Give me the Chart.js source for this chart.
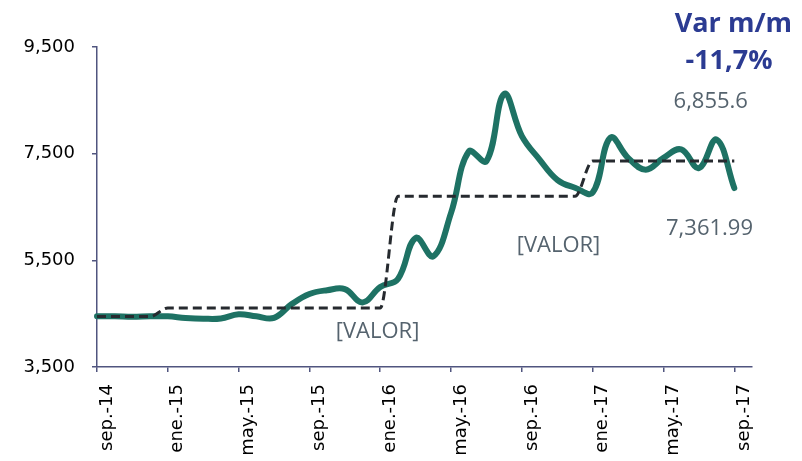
<!DOCTYPE html>
<html>
<head>
<meta charset="utf-8">
<script src="https://cdn.jsdelivr.net/npm/chart.js@4.4.1/dist/chart.umd.min.js"></script>
<style>
    html, body { margin: 0; padding: 0; background: #fff; }
    #wrap { width: 802px; height: 461px; }
</style>
</head>
<body>
<div id="wrap"><canvas id="precioChart"></canvas></div>
<script>
// meses (el eje llega hasta oct.-17, los datos terminan en sep.-17)
const months = [
    'sep.-14', 'oct.-14', 'nov.-14', 'dic.-14',
    'ene.-15', 'feb.-15', 'mar.-15', 'abr.-15', 'may.-15', 'jun.-15', 'jul.-15', 'ago.-15',
    'sep.-15', 'oct.-15', 'nov.-15', 'dic.-15',
    'ene.-16', 'feb.-16', 'mar.-16', 'abr.-16', 'may.-16', 'jun.-16', 'jul.-16', 'ago.-16',
    'sep.-16', 'oct.-16', 'nov.-16', 'dic.-16',
    'ene.-17', 'feb.-17', 'mar.-17', 'abr.-17', 'may.-17', 'jun.-17', 'jul.-17', 'ago.-17',
    'sep.-17', 'oct.-17'
];

// precio mensual
const monthlyValues = [
    4450, 4450, 4440, 4450,
    4450, 4420, 4405, 4410, 4490, 4450, 4420, 4680,
    4870, 4940, 4960, 4710,
    5000, 5150, 5920, 5575, 6390, 7540, 7360, 8620,
    7830, 7390, 7010, 6860,
    6770, 7800, 7420, 7200, 7420, 7580, 7230, 7764,
    6855.6
];

// promedio anual (linea punteada)
const yearlyAverage = [
    4445, 4445, 4445, 4445,
    4607, 4607, 4607, 4607, 4607, 4607, 4607, 4607,
    4607, 4607, 4607, 4607,
    4607, 6700, 6700, 6700, 6700, 6700, 6700, 6700,
    6700, 6700, 6700, 6700,
    7361.99, 7361.99, 7361.99, 7361.99, 7361.99, 7361.99, 7361.99, 7361.99,
    7361.99
];

const yTicks = [3500, 5500, 7500, 9500];

const axisColor = '#50557f';
const labelGray = '#55636e';
const navy = '#2b3b92';

const n = monthlyValues.length;
const lastValue = monthlyValues[n - 1];
const varMm = (lastValue / monthlyValues[n - 2] - 1) * 100;

// textos sueltos: [texto, posicion en meses, posicion en valor, fuente, color]
const notes = [
    [lastValue.toLocaleString('en-US'), 34.67, 8470, '22px "Open Sans"', labelGray],
    [yearlyAverage[n - 1].toLocaleString('en-US'), 34.6, 6100, '22px "Open Sans"', labelGray],
    ['[VALOR]', 15.85, 4160, '22px "Open Sans"', labelGray],
    ['[VALOR]', 26.07, 5770, '22px "Open Sans"', labelGray],
    ['Var m/m', 35.95, 9930, 'bold 27px "Open Sans"', navy],
    [varMm.toFixed(1).replace('.', ',') + '%', 35.7, 9225, 'bold 27px "Open Sans"', navy],
];

const notesPlugin = {
    id: 'notes',
    afterDraw(chart) {
        const {ctx, scales: {x, y}} = chart;
        ctx.save();
        ctx.textAlign = 'center';
        ctx.textBaseline = 'middle';
        notes.forEach(([text, mx, vy, font, color]) => {
            ctx.font = font;
            ctx.fillStyle = color;
            ctx.fillText(text, x.getPixelForValue(mx), y.getPixelForValue(vy));
        });
        ctx.restore();
    }
};

new Chart(document.getElementById('precioChart'), {
    type: 'line',
    data: {
        labels: months,
        datasets: [
            {
                label: 'Promedio anual',
                data: yearlyAverage,
                borderColor: '#262a2f',
                borderWidth: 3,
                borderDash: [9, 5],
                cubicInterpolationMode: 'monotone',
                pointRadius: 0,
                fill: false,
                order: 0,
            },
            {
                label: 'Precio',
                data: monthlyValues,
                borderColor: '#1e7264',
                borderWidth: 6,
                borderCapStyle: 'round',
                borderJoinStyle: 'round',
                tension: 0.4,
                pointRadius: 0,
                fill: false,
                order: 1,
            }
        ]
    },
    options: {
        responsive: true,
        maintainAspectRatio: false,
        animation: false,
        layout: {
            padding: {top: 47, right: 50, bottom: 0, left: 0}
        },
        scales: {
            x: {
                grid: {
                    display: true,
                    drawOnChartArea: false,
                    drawTicks: true,
                    tickLength: 5,
                    color: axisColor,
                    lineWidth: 1.5,
                },
                border: {display: true, color: axisColor, width: 1.5},
                ticks: {
                    autoSkip: false,
                    minRotation: 90,
                    maxRotation: 90,
                    padding: 12,
                    labelOffset: 10,
                    color: '#000',
                    font: {family: 'DejaVu Sans', size: 18},
                    callback: function (value, index) {
                        return index % 4 === 0 ? months[index] : null;
                    }
                },
                afterFit: function (scale) {
                    scale.height = 94;
                }
            },
            y: {
                min: 3500,
                max: 9500,
                afterBuildTicks: function (scale) {
                    scale.ticks = yTicks.map(v => ({value: v}));
                },
                grid: {
                    display: true,
                    drawOnChartArea: false,
                    drawTicks: true,
                    tickLength: 5,
                    color: axisColor,
                    lineWidth: 1.5,
                },
                border: {display: true, color: axisColor, width: 1.5},
                ticks: {
                    padding: 17,
                    color: '#000',
                    font: {family: 'DejaVu Sans', size: 18},
                    callback: v => v.toLocaleString('en-US')
                },
                afterFit: function (scale) {
                    scale.width = 97;
                }
            }
        },
        plugins: {
            legend: {display: false},
            tooltip: {enabled: false},
        }
    },
    plugins: [notesPlugin]
})
</script>
</body>
</html>
